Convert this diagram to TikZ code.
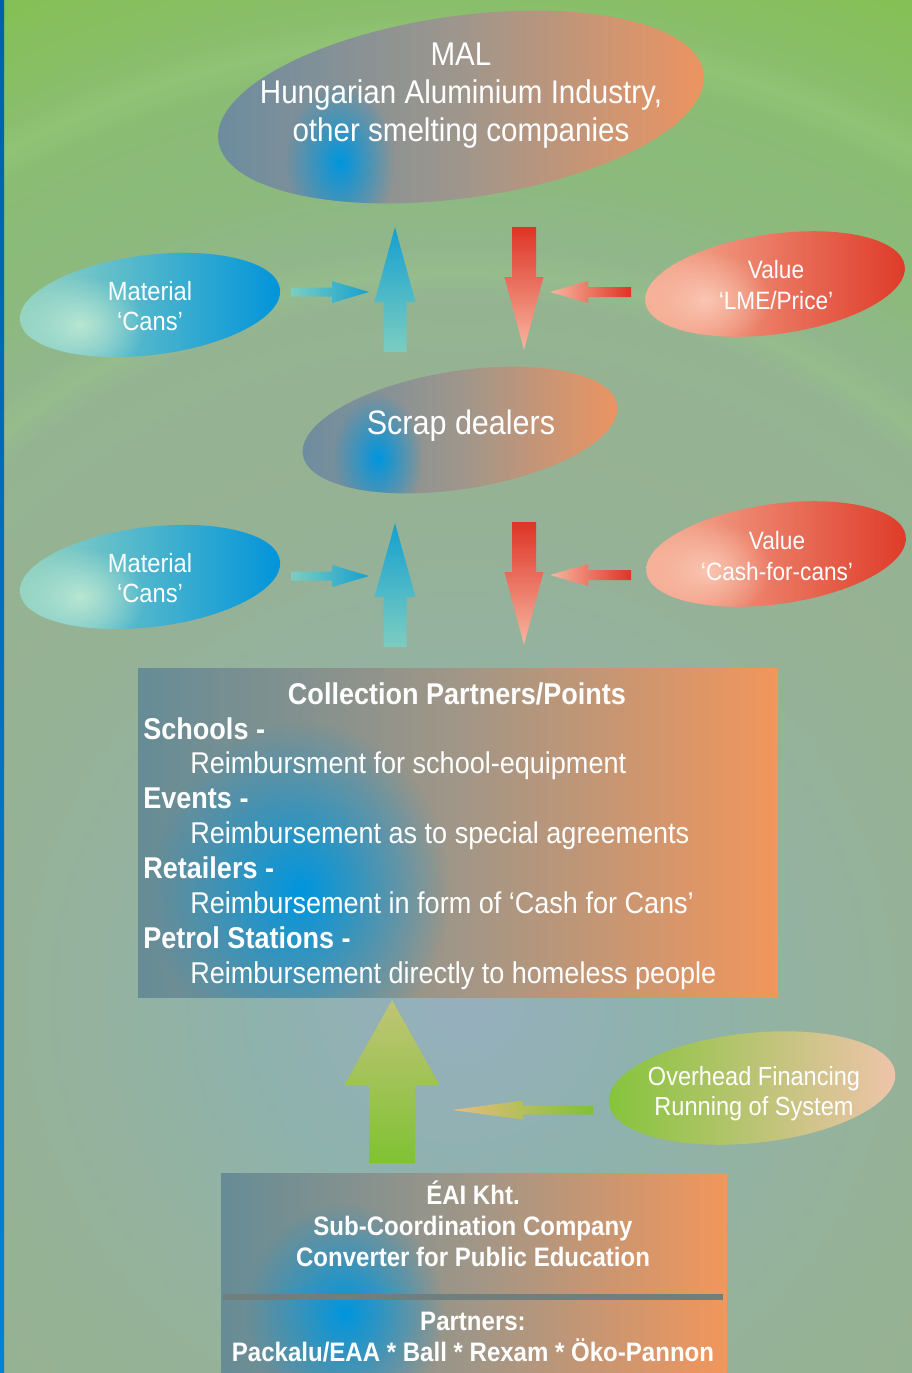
\documentclass[tikz,border=0pt]{standalone}
\usepackage{fontspec}
\setmainfont[FakeStretch=0.9]{Liberation Sans}
\usetikzlibrary{calc,fadings}

\definecolor{warmleft}{RGB}{108,140,160}
\definecolor{warmmid}{RGB}{158,150,140}
\definecolor{warmright}{RGB}{238,148,96}
\definecolor{spotblue}{RGB}{0,150,222}
\definecolor{matleft}{RGB}{150,212,192}
\definecolor{matright}{RGB}{0,148,218}
\definecolor{matlight}{RGB}{185,230,210}
\definecolor{valleft}{RGB}{246,178,152}
\definecolor{valright}{RGB}{222,58,40}
\definecolor{vallight}{RGB}{250,198,178}
\definecolor{fundleft}{RGB}{132,196,58}
\definecolor{fundright}{RGB}{240,196,172}
\definecolor{boxleft}{RGB}{102,140,150}
\definecolor{boxmid}{RGB}{160,150,135}
\definecolor{boxright}{RGB}{242,150,92}
\definecolor{sepgrey}{RGB}{112,126,126}
\definecolor{striptop}{RGB}{0,95,170}
\definecolor{stripbot}{RGB}{0,130,215}
\definecolor{cyantip}{RGB}{20,160,208}
\definecolor{cyanbase}{RGB}{125,205,192}
\definecolor{redtip}{RGB}{222,52,38}
\definecolor{redlight}{RGB}{248,182,160}
\definecolor{greenbase}{RGB}{128,194,52}
\definecolor{greentip}{RGB}{192,196,118}
\definecolor{greenwarm}{RGB}{232,188,128}

\pgfdeclareradialshading{bgrings}{\pgfpoint{0bp}{0bp}}{%
  rgb(0bp)=(0.588,0.686,0.745);
  rgb(4bp)=(0.557,0.698,0.675);
  rgb(7bp)=(0.580,0.698,0.620);
  rgb(10bp)=(0.588,0.698,0.580);
  rgb(13.5bp)=(0.580,0.706,0.569);
  rgb(14bp)=(0.588,0.737,0.549);
  rgb(14.5bp)=(0.569,0.714,0.549);
  rgb(16bp)=(0.549,0.729,0.490);
  rgb(18bp)=(0.541,0.737,0.451);
  rgb(18.5bp)=(0.569,0.765,0.463);
  rgb(19bp)=(0.541,0.745,0.424);
  rgb(21bp)=(0.518,0.753,0.333);
  rgb(22.5bp)=(0.490,0.765,0.235);
  rgb(25bp)=(0.471,0.765,0.216);
  rgb(50bp)=(0.471,0.765,0.216)}

\tikzfading[name=spotfade, inner color=transparent!0, outer color=transparent!100]

\tikzset{
  warmshade/.style={left color=warmleft, right color=warmright, middle color=warmmid},
  matshade/.style={left color=matleft, right color=matright},
  valshade/.style={left color=valleft, right color=valright},
  fundshade/.style={left color=fundleft, right color=fundright},
  boxshade/.style={left color=boxleft, right color=boxright, middle color=boxmid},
  bluespot/.style={fill=spotblue, path fading=spotfade},
  matspot/.style={fill=matlight, path fading=spotfade},
  valspot/.style={fill=vallight, path fading=spotfade},
  cyanup/.style={top color=cyantip, bottom color=cyanbase},
  cyanright/.style={left color=cyanbase, right color=cyantip},
  reddown/.style={top color=redtip, bottom color=redlight},
  redleft/.style={left color=redlight, right color=redtip},
  greenup/.style={top color=greentip, bottom color=greenbase},
  greenleft/.style={left color=greenwarm, right color=greenbase},
  blobtext/.style={text=white, align=center, inner sep=0pt, font=\fontsize{15}{17.1}\selectfont},
  valtext/.style={blobtext, font=\fontsize{14.3}{17.1}\selectfont},
  maltext/.style={blobtext, font=\fontsize{18.7}{21.6}\selectfont},
  scraptext/.style={blobtext, font=\fontsize{19.3}{22}\selectfont},
  fundtext/.style={blobtext, font=\fontsize{14.9}{17.1}\selectfont},
  listhead/.style={text=white, inner sep=0pt, anchor=base, font=\bfseries\fontsize{17.1}{19.8}\selectfont},
  listkey/.style={text=white, inner sep=0pt, anchor=base west, font=\bfseries\fontsize{17.1}{19.8}\selectfont},
  listnote/.style={text=white, inner sep=0pt, anchor=base west, font=\fontsize{17.1}{19.8}\selectfont},
  eaitext/.style={text=white, align=center, inner sep=0pt, font=\bfseries\fontsize{15.2}{17.7}\selectfont},
}

% fat block arrows: style, tail, tip, half shaft, half head, head length
\newcommand{\vflow}[6]{%
  \shade[#1] ($(#2)+(-#4,0)$) -- ($(#3)+(-#4,#6)$) -- ($(#3)+(-#5,#6)$) -- (#3)
    -- ($(#3)+(#5,#6)$) -- ($(#3)+(#4,#6)$) -- ($(#2)+(#4,0)$) -- cycle;}
\newcommand{\hflow}[6]{%
  \shade[#1] ($(#2)+(0,-#4)$) -- ($(#3)+(#6,-#4)$) -- ($(#3)+(#6,-#5)$) -- (#3)
    -- ($(#3)+(#6,#5)$) -- ($(#3)+(#6,#4)$) -- ($(#2)+(0,#4)$) -- cycle;}

\begin{document}
\begin{tikzpicture}[x=0.02cm, y=-0.02cm]

      \useasboundingbox (0,0) rectangle (912,1373);
      \begin{scope}
        \clip (0,0) rectangle (912,1373);
        \shade[shading=bgrings] (460,1000) circle (1300);
      \end{scope}
      \shade[top color=striptop, bottom color=stripbot] (0,0) rectangle (4,1373);

      % smelters
      \begin{scope}
        \clip[rotate around={8:(461,107)}] (461,107) ellipse [x radius=245, y radius=91];
        \shade[warmshade] (214,8) rectangle (708,208);
        \fill[bluespot] (340,162) ellipse [x radius=55, y radius=80];
      \end{scope}
      \node[maltext] (mal) at (461,96) {MAL\\Hungarian Aluminium Industry,\\other smelting companies};

      \begin{scope}
        \clip[rotate around={7:(150,305)}] (150,305) ellipse [x radius=131, y radius=50];
        \shade[matshade] (18,250) rectangle (282,360);
        \fill[matspot] (80,325) ellipse [x radius=65, y radius=50];
      \end{scope}
      \node[blobtext] (material1) at (150,306) {Material\\‘Cans’};

      \begin{scope}
        \clip[rotate around={8:(775,284)}] (775,284) ellipse [x radius=131, y radius=50];
        \shade[valshade] (642,230) rectangle (908,338);
        \fill[valspot] (705,300) ellipse [x radius=65, y radius=50];
      \end{scope}
      \node[valtext] (value1) at (776,285) {Value\\‘LME/Price’};

      \coordinate (cansup1) at (395,352);
      \coordinate (cansup1tip) at (395,227);
      \coordinate (cansin1) at (291,292);
      \coordinate (cansin1tip) at (369,292);
      \coordinate (pricedn1) at (524,227);
      \coordinate (pricedn1tip) at (524,350);
      \coordinate (pricein1) at (631,292);
      \coordinate (pricein1tip) at (550,292);
      \vflow{cyanup}{cansup1}{cansup1tip}{11.5}{20.5}{75}
      \hflow{cyanright}{cansin1}{cansin1tip}{4.5}{11}{-37}
      \vflow{reddown}{pricedn1}{pricedn1tip}{12}{19.5}{-73}
      \hflow{redleft}{pricein1}{pricein1tip}{5}{11}{38}

      % scrap dealers
      \begin{scope}
        \clip[rotate around={9:(460,430)}] (460,430) ellipse [x radius=159, y radius=59];
        \shade[warmshade] (298,364) rectangle (622,496);
        \fill[bluespot] (378,458) ellipse [x radius=45, y radius=65];
      \end{scope}
      \node[scraptext] (scrap) at (461,426) {Scrap dealers};

      \begin{scope}
        \clip[rotate around={7:(150,577)}] (150,577) ellipse [x radius=131, y radius=50];
        \shade[matshade] (18,522) rectangle (282,632);
        \fill[matspot] (80,597) ellipse [x radius=65, y radius=50];
      \end{scope}
      \node[blobtext] (material2) at (150,578) {Material\\‘Cans’};

      \begin{scope}
        \clip[rotate around={8:(776,554)}] (776,554) ellipse [x radius=131, y radius=50];
        \shade[valshade] (643,500) rectangle (909,608);
        \fill[valspot] (706,570) ellipse [x radius=65, y radius=50];
      \end{scope}
      \node[valtext] (value2) at (777,556) {Value\\‘Cash-for-cans’};

      \coordinate (cansup2) at (395,647);
      \coordinate (cansup2tip) at (395,523);
      \coordinate (cansin2) at (291,576);
      \coordinate (cansin2tip) at (369,576);
      \coordinate (cashdn2) at (524,522);
      \coordinate (cashdn2tip) at (524,645);
      \coordinate (cashin2) at (631,575);
      \coordinate (cashin2tip) at (550,575);
      \vflow{cyanup}{cansup2}{cansup2tip}{11.5}{20.5}{74}
      \hflow{cyanright}{cansin2}{cansin2tip}{4.5}{11}{-37}
      \vflow{reddown}{cashdn2}{cashdn2tip}{12}{19.5}{-73}
      \hflow{redleft}{cashin2}{cashin2tip}{5}{11}{38}

      % collection partners
      \begin{scope}
        \clip (138,668) rectangle (778,997);
        \shade[boxshade] (138,668) rectangle (778,997);
        \fill[bluespot] (300,890) ellipse [x radius=150, y radius=170];
      \end{scope}
      \node[listhead] (collhead) at (457,704) {Collection Partners/Points};
      \node[listkey] (schools) at (143,739) {Schools -};
      \node[listnote] (schoolsnote) at (190,773) {Reimbursment for school-equipment};
      \node[listkey] (events) at (143,808) {Events -};
      \node[listnote] (eventsnote) at (190,843) {Reimbursement as to special agreements};
      \node[listkey] (retailers) at (143,878) {Retailers -};
      \node[listnote] (retailersnote) at (190,913) {Reimbursement in form of ‘Cash for Cans’};
      \node[listkey] (petrol) at (143,948) {Petrol Stations -};
      \node[listnote] (petrolnote) at (190,983) {Reimbursement directly to homeless people};

      % financing
      \begin{scope}
        \clip[rotate around={6:(752,1088)}] (752,1088) ellipse [x radius=144, y radius=55];
        \shade[fundshade] (604,1026) rectangle (900,1150);
      \end{scope}
      \node[fundtext] (fund) at (754,1094) {Overhead Financing\\Running of System};

      \coordinate (fundup) at (392,1163);
      \coordinate (funduptip) at (392,1000);
      \coordinate (fundin) at (593,1110);
      \coordinate (fundintip) at (452,1110);
      \vflow{greenup}{fundup}{funduptip}{23}{47.5}{85}
      \hflow{greenleft}{fundin}{fundintip}{4.5}{9.5}{71}

      % coordination company
      \begin{scope}
        \clip (221,1173) rectangle (727,1373);
        \shade[boxshade] (221,1173) rectangle (727,1373);
        \fill[bluespot] (345,1313) ellipse [x radius=100, y radius=110];
      \end{scope}
      \draw[sepgrey, line width=3] (223,1297) -- (723,1297);
      \node[eaitext] (eai) at (473,1224) {ÉAI Kht.\\Sub-Coordination Company\\Converter for Public Education};
      \node[eaitext] (partners) at (473,1337) {Partners:\\Packalu/EAA * Ball * Rexam * Öko-Pannon};

    \end{tikzpicture}
\end{document}
